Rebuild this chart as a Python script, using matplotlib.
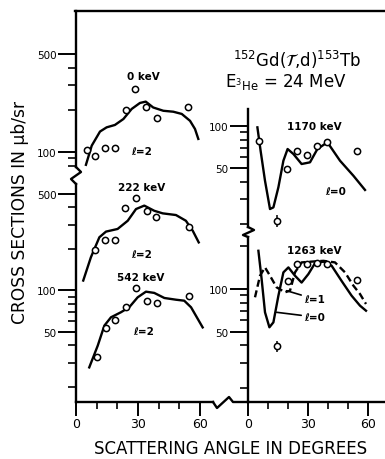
import matplotlib
matplotlib.use('Agg')
import matplotlib.pyplot as plt
from matplotlib.lines import Line2D
from matplotlib.ticker import NullFormatter, FixedLocator, FixedFormatter

# ---------------- data ----------------
# 0 keV, l=2
ang_0 = [5.5, 9.2, 14, 19, 24, 28.5, 33.8, 39, 54.2]
xs_0 = [103, 94, 106, 107, 200, 282, 208, 174, 211]
fit_ang_0 = [4.8, 7.6, 11.6, 14.8, 18.8, 22.9, 26.9, 30.9, 33.7, 37.3, 42.2, 47, 51.1, 55.1, 57.5, 59.1]
fit_0 = [81, 111, 140, 150, 156, 172, 203, 224, 229, 208, 197, 194, 187, 167, 146, 124]

# 222 keV, l=2
ang_222 = [9.3, 14.2, 19.0, 23.8, 29.0, 34.2, 38.6, 54.4]
xs_222 = [197, 233, 233, 396, 468, 375, 339, 287]
fit_ang_222 = [3.5, 7.2, 11.3, 14.5, 20.1, 25, 29, 33, 37.8, 41.9, 48.3, 53.1, 56.4, 59.3]
fit_222 = [118, 174, 243, 267, 279, 320, 389, 412, 378, 362, 352, 320, 271, 223]

# 542 keV, l=2
ang_542 = [10.0, 14.5, 19.0, 24.2, 29.0, 34.2, 39.1, 54.7]
xs_542 = [33.1, 53.2, 61.1, 75.5, 104, 84.3, 80.7, 90.7]
fit_ang_542 = [6.4, 10.5, 13.7, 16.9, 21.7, 25.7, 29.8, 33.8, 37.8, 42.7, 48.3, 52.3, 55.6, 61.2]
fit_542 = [27.7, 39.8, 55.6, 63.9, 69.5, 75.5, 89.2, 98, 96, 88.2, 85.7, 84.3, 75.5, 54]

# 1170 keV, l=0
ang_1170 = [5.7, 14.7, 19.7, 24.7, 29.3, 34.7, 39.7, 54.7]
xs_1170 = [78.5, 21, 49.2, 65.9, 62.3, 71.5, 76.4, 65.9]
err_1170 = [0, 2.1, 0, 0, 0, 0, 0, 0]
fit_ang_1170 = [4.7, 6.3, 8.5, 11, 12.7, 15.2, 17.7, 19.8, 22.7, 26.8, 31, 34.7, 39.7, 46, 52.7, 58.5]
fit_1170 = [97.8, 66.5, 40.5, 25.4, 26.1, 36.4, 56.4, 68.4, 63, 53.4, 54.9, 68.4, 76.4, 56.4, 44, 34.8]

# 1263 keV, l=0 (solid) and l=1 (dashed)
ang_1263 = [14.7, 20.2, 24.7, 29.3, 34.7, 39.7, 54.7]
xs_1263 = [39.4, 114, 150, 150, 152, 150, 116]
err_1263 = [3.4, 0, 0, 0, 0, 0, 0]
fit_ang_1263_l0 = [5.2, 6.8, 8.5, 10.7, 12.7, 15.2, 17.7, 20.2, 23.5, 26.8, 30.2, 33.5, 37.7, 41.8, 46.8, 51.8, 56, 59]
fit_1263_l0 = [186, 118, 68.5, 53.7, 58.2, 89.7, 131, 142, 124, 111, 127.5, 152, 156, 146, 114, 89.7, 76.3, 70.3]
fit_ang_1263_l1 = [3.5, 6, 8.5, 11, 14.3, 18.5, 21, 23.5, 26.8, 31.8, 37.7, 43.5, 48.5, 52.7, 56, 59]
fit_1263_l1 = [87.4, 124, 142, 124, 102.8, 94.8, 97.3, 131, 154, 156, 158, 154, 131, 105.6, 92.2, 78.4]

x_major = [0, 30, 60]
x_minor = [10, 20, 40, 50]

# ---------------- layout ----------------
W, H = 385, 460
fig = plt.figure(figsize=(W / 100, H / 100), dpi=100)
LW = 1.7


def px_axes(x0, x1, y0, y1):
    return fig.add_axes([x0 / W, 1 - y1 / H, (x1 - x0) / W, (y1 - y0) / H])


def log_lim(vref, pref, ppd, y0, y1):
    return vref * 10 ** (-(y1 - pref) / ppd), vref * 10 ** ((pref - y0) / ppd)


def style(ax, xlim, ylim, major, minor, xticks):
    ax.set_facecolor('none')
    ax.set_yscale('log')
    ax.set_xlim(xlim)
    ax.set_ylim(ylim)
    for s in ['top', 'right']:
        ax.spines[s].set_visible(False)
    ax.spines['left'].set_linewidth(LW)
    ax.spines['bottom'].set_linewidth(LW)
    ax.yaxis.set_major_locator(FixedLocator(major))
    ax.yaxis.set_major_formatter(FixedFormatter([str(v) for v in major]))
    ax.yaxis.set_minor_locator(FixedLocator(minor))
    ax.yaxis.set_minor_formatter(NullFormatter())
    ax.tick_params(axis='y', which='major', direction='out', length=13, width=1.4,
                   labelsize=7.5, pad=1)
    ax.tick_params(axis='y', which='minor', direction='out', length=5.5, width=1.2)
    if xticks:
        ax.xaxis.set_major_locator(FixedLocator(x_major))
        ax.xaxis.set_major_formatter(FixedFormatter([str(v) for v in x_major]))
        ax.xaxis.set_minor_locator(FixedLocator(x_minor))
        ax.xaxis.set_minor_formatter(NullFormatter())
        ax.tick_params(axis='x', which='major', direction='out', length=10, width=1.4,
                       labelsize=9, pad=1)
        ax.tick_params(axis='x', which='minor', direction='out', length=5, width=1.2)
    else:
        ax.spines['bottom'].set_visible(False)
        ax.set_xticks([])
        ax.set_xticks([], minor=True)


def pts(ax, a, v, err=None):
    if err is None:
        ax.plot(a, v, 'o', mfc='white', mec='k', ms=4.5, mew=1.1, clip_on=False, zorder=3)
    else:
        ax.errorbar(a, v, yerr=err, fmt='o', mfc='white', mec='k', ms=4.5, mew=1.1,
                    ecolor='k', elinewidth=1.1, capsize=0, clip_on=False, zorder=3)


def curve(ax, a, v, dashed=False):
    if dashed:
        ax.plot(a, v, color='k', lw=LW, ls=(0, (3, 1.6)), clip_on=False, zorder=2)
    else:
        ax.plot(a, v, color='k', lw=LW, clip_on=False, zorder=2)


lab = dict(fontsize=7.5, fontweight='bold', ha='center', va='center')

# Left column, top (0 keV)
axA = px_axes(76, 213, 12, 168)
style(axA, (0, 66.2), log_lim(100, 153, 140, 12, 168), [100, 500], [80, 90, 200, 300, 400], False)
curve(axA, fit_ang_0, fit_0)
pts(axA, ang_0, xs_0)
axA.text(32.4, 349, '0 keV', **lab)
axA.text(31.9, 102, 'ℓ=2', **lab)

# Left column, bottom (222 keV, 542 keV)
axB = px_axes(76, 213, 185, 403)
style(axB, (0, 66.2), log_lim(500, 195, 138, 185, 403), [50, 100, 500],
      [20, 30, 40, 60, 70, 80, 90, 200, 300, 400], True)
curve(axB, fit_ang_222, fit_222)
pts(axB, ang_222, xs_222)
curve(axB, fit_ang_542, fit_542)
pts(axB, ang_542, xs_542)
axB.text(31.9, 562, '222 keV', **lab)
axB.text(31.9, 184, 'ℓ=2', **lab)
axB.text(31.4, 125, '542 keV', **lab)
axB.text(32.9, 51.2, 'ℓ=2', **lab)

# Right column, top (1170 keV)
axC = px_axes(248, 385, 110, 228)
style(axC, (0, 68.5), log_lim(100, 127, 139.5, 110, 228), [50, 100],
      [20, 30, 40, 60, 70, 80, 90], False)
curve(axC, fit_ang_1170, fit_1170)
pts(axC, ang_1170, xs_1170, err_1170)
axC.text(33, 100, '1170 keV', **lab)
axC.text(44, 34.2, 'ℓ=0', **lab)

# Right column, bottom (1263 keV)
axD = px_axes(248, 385, 238, 403)
style(axD, (0, 68.5), log_lim(100, 290, 141.8, 238, 403), [50, 100],
      [20, 30, 40, 60, 70, 80, 90, 200], True)
curve(axD, fit_ang_1263_l1, fit_1263_l1, dashed=True)
curve(axD, fit_ang_1263_l0, fit_1263_l0)
pts(axD, ang_1263, xs_1263, err_1263)
axD.text(33, 188, '1263 keV', **lab)
leader = dict(arrowstyle='-', color='k', lw=1.2, shrinkA=0, shrinkB=0)
axD.annotate('ℓ=1', xy=(19.3, 97.3), xytext=(28, 85), ha='left', va='center',
             fontsize=7.5, fontweight='bold', arrowprops=leader)
axD.annotate('ℓ=0', xy=(14.3, 68.5), xytext=(28, 63.5), ha='left', va='center',
             fontsize=7.5, fontweight='bold', arrowprops=leader)


# frame pieces and axis breaks (pixel coordinates)
def px_line(xs, ys):
    fig.add_artist(Line2D([x / W for x in xs], [1 - y / H for y in ys], lw=LW, color='k'))


px_line([75, 385], [12, 12])
px_line([76, 81, 71, 76], [168, 173, 180, 185])
px_line([248, 254, 243, 248], [228, 231, 236, 238])
px_line([213, 217, 229, 233, 248], [403, 409, 398, 403, 403])

# titles and axis labels
fig.text(297 / W, 1 - 60 / H, r'$^{152}$Gd($\mathcal{T}$,d)$^{153}$Tb', fontsize=12,
         ha='center', va='center')
fig.text(286 / W, 1 - 82 / H, r'E$_{^3\mathrm{He}}$ = 24 MeV', fontsize=12,
         ha='center', va='center')
fig.text(231 / W, 1 - 449 / H, 'SCATTERING ANGLE IN DEGREES', fontsize=12,
         ha='center', va='center')
fig.text(20 / W, 1 - 212 / H, 'CROSS SECTIONS IN μb/sr', fontsize=12.3, rotation=90,
         ha='center', va='center')

# draw once and touch the tick objects so every x tick is built before saving
fig.canvas.draw()
for ax in (axB, axD):
    for tk in ax.xaxis.get_major_ticks() + ax.xaxis.get_minor_ticks():
        tk.tick1line.set_visible(True)
    for tk in ax.xaxis.get_major_ticks():
        tk.label1.set_visible(True)
    ax.get_xlim()
fig.savefig('out.png', dpi=100)
